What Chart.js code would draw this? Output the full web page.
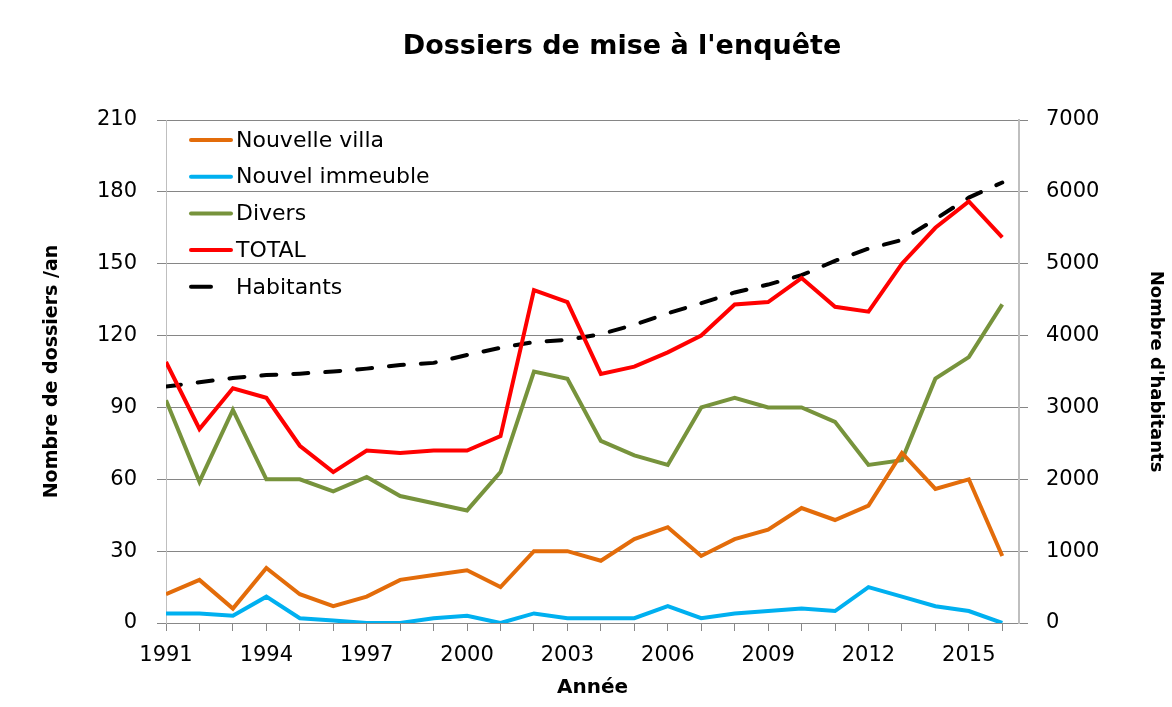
<!DOCTYPE html>
<html lang="fr">

<head>
  <meta charset="UTF-8">
  <title>Dossiers de mise à l'enquête</title>
  <script src="https://cdn.jsdelivr.net/npm/chart.js"></script>
  <style>
    body { margin: 0; background: #fff; }
    #wrap { width: 1172px; height: 707px; }
  </style>
</head>

<body>
  <div id="wrap"><canvas id="dossiersChart" width="1172" height="707"></canvas></div>

  <script>
    // données
    const years = [1991, 1992, 1993, 1994, 1995, 1996, 1997, 1998, 1999, 2000, 2001, 2002, 2003,
      2004, 2005, 2006, 2007, 2008, 2009, 2010, 2011, 2012, 2013, 2014, 2015, 2016];
    const villa = [12, 18, 6, 23, 12, 7, 11, 18, 20, 22, 15, 30, 30,
      26, 35, 40, 28, 35, 39, 48, 43, 49, 71, 56, 60, 28];
    const immeuble = [4, 4, 3, 11, 2, 1, 0, 0, 2, 3, 0, 4, 2,
      2, 2, 7, 2, 4, 5, 6, 5, 15, 11, 7, 5, 0];
    const divers = [93, 59, 89, 60, 60, 55, 61, 53, 50, 47, 63, 105, 102,
      76, 70, 66, 90, 94, 90, 90, 84, 66, 68, 102, 111, 133];
    const total = [109, 81, 98, 94, 74, 63, 72, 71, 72, 72, 78, 139, 134,
      104, 107, 113, 120, 133, 134, 144, 132, 130, 150, 165, 176, 161];
    const habitants = [3290, 3350, 3410, 3450, 3470, 3500, 3540, 3590, 3620, 3730, 3830, 3910, 3940,
      4020, 4150, 4310, 4450, 4600, 4710, 4840, 5040, 5210, 5330, 5620, 5920, 6130];
    const leftTicks = [0, 30, 60, 90, 120, 150, 180, 210];
    const rightTicks = [0, 1000, 2000, 3000, 4000, 5000, 6000, 7000];

    const FONT = "'DejaVu Sans', sans-serif";
    const pts = arr => years.map((yr, i) => ({ x: yr, y: arr[i] }));

    // titre + légende dessinés dans le graphique
    const extras = {
      id: 'extras',
      afterDatasetsDraw(chart) {
        const ctx = chart.ctx;
        ctx.save();
        ctx.fillStyle = '#000';
        ctx.font = 'bold 27px ' + FONT;
        ctx.textAlign = 'center';
        ctx.textBaseline = 'middle';
        ctx.fillText("Dossiers de mise à l'enquête", 622, 47);

        ctx.font = '22px ' + FONT;
        ctx.textAlign = 'left';
        chart.data.datasets.forEach((ds, i) => {
          const y = 140 + i * 36.7;
          ctx.strokeStyle = ds.borderColor;
          ctx.lineWidth = 4;
          ctx.lineCap = 'round';
          ctx.beginPath();
          ctx.moveTo(191, y);
          ctx.lineTo(ds.borderDash ? 211 : 231, y);
          ctx.stroke();
          ctx.fillText(ds.label, 236, y + 1);
        });
        ctx.restore();
      }
    };

    const ctx = document.getElementById('dossiersChart').getContext('2d');
    const dossiersChart = new Chart(ctx, {
      type: 'line',
      data: {
        datasets: [{
          label: 'Nouvelle villa',
          data: pts(villa),
          borderColor: '#E36C0A',
          yAxisID: 'y'
        }, {
          label: 'Nouvel immeuble',
          data: pts(immeuble),
          borderColor: '#00B0F0',
          yAxisID: 'y'
        }, {
          label: 'Divers',
          data: pts(divers),
          borderColor: '#77933C',
          yAxisID: 'y'
        }, {
          label: 'TOTAL',
          data: pts(total),
          borderColor: '#FF0000',
          yAxisID: 'y'
        }, {
          label: 'Habitants',
          data: pts(habitants),
          borderColor: '#000000',
          borderDash: [15, 17],
          borderCapStyle: 'round',
          yAxisID: 'y2'
        }]
      },
      options: {
        responsive: false,
        animation: false,
        layout: { padding: { top: 120, left: 0, right: 0, bottom: 0 } },
        elements: {
          line: { borderWidth: 4, tension: 0, borderJoinStyle: 'miter' },
          point: { radius: 0 }
        },
        plugins: {
          legend: { display: false },
          tooltip: { enabled: false }
        },
        scales: {
          x: {
            type: 'linear',
            min: 1991,
            max: 2016.5,
            afterBuildTicks: axis => { axis.ticks = years.map(v => ({ value: v })); },
            afterFit: s => { s.height = 84; },
            grid: { drawOnChartArea: false, tickLength: 8, tickColor: '#888', color: '#888' },
            border: { color: '#888' },
            ticks: {
              autoSkip: false,
              maxRotation: 0,
              padding: 12,
              color: '#000',
              font: { family: FONT, size: 21 },
              callback: v => ((v - 1991) % 3 === 0 ? String(v) : '')
            },
            title: {
              display: true,
              text: 'Année',
              color: '#000',
              font: { family: FONT, size: 20, weight: 'bold' },
              padding: { top: 0, bottom: 7 }
            }
          },
          y: {
            position: 'left',
            min: 0,
            max: 210,
            afterBuildTicks: axis => { axis.ticks = leftTicks.map(v => ({ value: v })); },
            afterFit: s => { s.width = 166; },
            grid: { color: '#868686', tickLength: 9 },
            border: { color: '#bfbfbf' },
            ticks: { padding: 20, color: '#000', font: { family: FONT, size: 21 }, callback: v => String(v) },
            title: {
              display: true,
              text: 'Nombre de dossiers /an',
              color: '#000',
              font: { family: FONT, size: 19, weight: 'bold' },
              padding: { top: 41, bottom: 0 }
            }
          },
          y2: {
            position: 'right',
            min: 0,
            max: 7000,
            afterBuildTicks: axis => { axis.ticks = rightTicks.map(v => ({ value: v })); },
            afterFit: s => { s.width = 153; },
            grid: { drawOnChartArea: false, color: '#868686', tickLength: 9 },
            border: { color: '#bfbfbf', width: 2 },
            ticks: { padding: 18, color: '#000', font: { family: FONT, size: 21 }, callback: v => String(v) },
            title: {
              display: true,
              text: "Nombre d'habitants",
              color: '#000',
              font: { family: FONT, size: 18, weight: 'bold' },
              padding: { top: 6, bottom: 0 }
            }
          }
        }
      },
      plugins: [extras]
    });
  </script>
</body>

</html>
